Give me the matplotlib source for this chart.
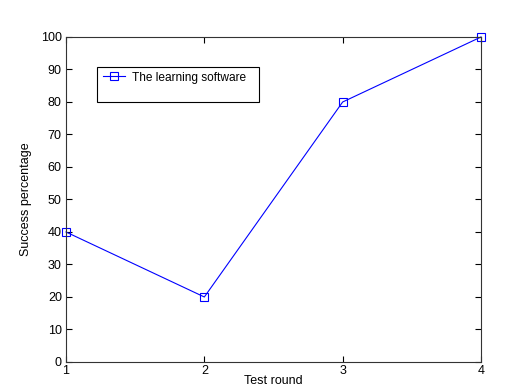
import matplotlib.pyplot as plt
from matplotlib.patches import Rectangle

plt.rcParams['font.family'] = ['Liberation Sans', 'DejaVu Sans']
plt.rcParams['font.size'] = 9

rounds = [1, 2, 3, 4]
success = [40, 20, 80, 100]
series_label = 'The learning software'

fig = plt.figure(figsize=(5.25, 3.91), dpi=100)
ax = fig.add_axes([0.1257, 0.0742, 0.7905, 0.8312])

ax.plot(rounds, success, color='blue', linewidth=0.8, marker='s', markersize=6,
        markerfacecolor='none', markeredgecolor='blue', markeredgewidth=0.8,
        label=series_label, clip_on=False)

ax.set_xlim(1, 4)
ax.set_ylim(0, 100)
ax.set_xticks(rounds)
ax.set_yticks(range(0, 101, 10))
ax.tick_params(direction='in', top=True, right=True, length=4, width=0.8, pad=3)
ax.tick_params(axis='x', pad=2)
for s in ax.spines.values():
    s.set_linewidth(0.8)
    s.set_color('#333333')

ax.set_xlabel('Test round', labelpad=-1)
ax.set_ylabel('Success percentage', labelpad=6)

# MATLAB style legend box (tall with text at top)
ax.add_patch(Rectangle((0.0747, 0.80), 0.3903, 0.108, transform=ax.transAxes,
                       fill=True, facecolor='white', edgecolor='black', linewidth=0.8, zorder=5))
leg = ax.legend(loc='upper left', bbox_to_anchor=(0.078, 0.908), frameon=False,
                handlelength=1.8, handletextpad=0.6, borderaxespad=0,
                prop={'size': 8.6})
leg.set_zorder(6)

fig.savefig('out.png', dpi=100)
